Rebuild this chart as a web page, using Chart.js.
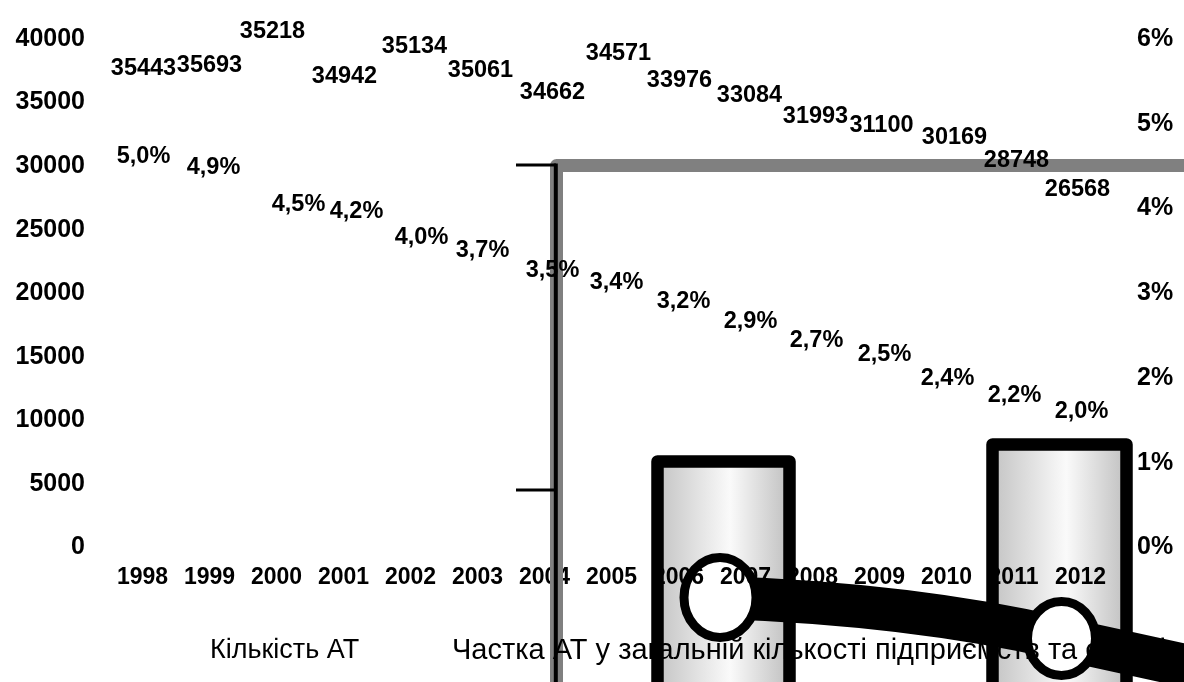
<!DOCTYPE html>
<html>
<head>
<meta charset="utf-8">
<script src="https://cdn.jsdelivr.net/npm/chart.js@4.4.0/dist/chart.umd.min.js"></script>
<style>
html,body{margin:0;padding:0;background:#fff;}
#wrap{width:1184px;height:682px;position:relative;overflow:hidden;}
canvas{display:block;}
</style>
</head>
<body>
<div id="wrap"><canvas id="c" width="1184" height="682"></canvas></div>
<script>
// ---- data ----
const years = ['1998','1999','2000','2001','2002','2003','2004','2005','2006','2007','2008','2009','2010','2011','2012'];
const companyCount = [35443,35693,35218,34942,35134,35061,34662,34571,33976,33084,31993,31100,30169,28748,26568];
const sharePercent = [5.0,4.9,4.5,4.2,4.0,3.7,3.5,3.4,3.2,2.9,2.7,2.5,2.4,2.2,2.0];
const countAxis = {min:0, max:40000, step:5000};
const shareAxis = {min:0, max:6, step:1};
const seriesNames = ['Кількість АТ', 'Частка АТ у загальній кількості підприємств та організацій'];

// ---- label nudges (px, relative to the scale position of each value) ----
const countLabelDx = [1,0,-4,1,4,3,8,7,1,4,3,2,8,3,-3];
const countLabelDy = [-28,-28,-68,-27,-54,-31,-14,-55,-35,-31,-24,-27,-26,-22,-20];
const shareLabelDx = [1,4,22,13,11,5,8,5,5,5,4,5,1,1,1];
const shareLabelDy = [33,35,38,20,29,17,20,23,25,20,22,19,34,34,34];

const FONT = "'Liberation Sans', Arial, sans-serif";

function fmtShare(v){ return v.toFixed(1).replace('.', ',') + '%'; }

// decorative oversized legend-key artefacts of the original picture
const keyBars = [
  {x0:657.5, x1:789.5, top:461.5},
  {x0:992.5, x1:1126.5, top:444.5}
];
const keyRings = [
  {cx:720, cy:597.5, rx:36, ry:40},
  {cx:1061.5, cy:638.5, rx:34, ry:37}
];

function ellipsePath(ctx, e){
  ctx.moveTo(e.cx + e.rx, e.cy);
  ctx.ellipse(e.cx, e.cy, e.rx, e.ry, 0, 0, Math.PI*2);
}

const artPlugin = {
  id:'art',
  beforeDraw(chart){
    const ctx = chart.ctx;
    ctx.save();
    ctx.fillStyle = '#fff';
    ctx.fillRect(0,0,chart.width,chart.height);
    keyBars.forEach(b=>{
      const g = ctx.createLinearGradient(b.x0, 0, b.x1, 0);
      g.addColorStop(0, '#c4c4c4');
      g.addColorStop(0.55, '#fafafa');
      g.addColorStop(1, '#c0c0c0');
      ctx.fillStyle = g;
      ctx.fillRect(b.x0, b.top, b.x1-b.x0, 800);
    });
    ctx.fillStyle = '#fff';
    keyRings.forEach(e=>{ ctx.beginPath(); ellipsePath(ctx,e); ctx.fill(); });
    ctx.restore();
  },
  beforeDatasetsDraw(chart){
    const ctx = chart.ctx;
    ctx.save();
    ctx.strokeStyle = '#808080';
    ctx.lineWidth = 13;
    ctx.lineJoin = 'round';
    ctx.beginPath();
    ctx.moveTo(556.5, 760);
    ctx.lineTo(556.5, 165.5);
    ctx.lineTo(1260, 165.5);
    ctx.stroke();
    ctx.restore();
  },
  afterDatasetsDraw(chart){
    const ctx = chart.ctx;
    const yS = chart.scales.y, y1S = chart.scales.y1;
    const barMeta = chart.getDatasetMeta(0);
    const lineMeta = chart.getDatasetMeta(1);
    ctx.save();
    ctx.fillStyle = '#000';
    ctx.textAlign = 'center';
    ctx.textBaseline = 'middle';
    ctx.font = 'bold 23.5px ' + FONT;
    companyCount.forEach((v,i)=>{
      const x = barMeta.data[i].x + countLabelDx[i];
      const y = yS.getPixelForValue(v) + countLabelDy[i];
      ctx.fillText(String(v), x, y);
    });
    sharePercent.forEach((v,i)=>{
      const x = lineMeta.data[i].x + shareLabelDx[i];
      const y = y1S.getPixelForValue(v) + shareLabelDy[i];
      ctx.fillText(fmtShare(v), x, y);
    });
    ctx.restore();
  },
  afterDraw(chart){
    const ctx = chart.ctx;
    ctx.save();
    ctx.fillStyle = '#000';
    ctx.textAlign = 'left';
    ctx.textBaseline = 'middle';
    ctx.font = '27px ' + FONT;
    ctx.fillText(seriesNames[0], 210, 651);
    ctx.font = '29px ' + FONT;
    ctx.fillText(seriesNames[1], 452, 651);
    // bar borders
    ctx.strokeStyle = '#000';
    ctx.lineWidth = 12.5;
    ctx.lineJoin = 'round';
    keyBars.forEach(b=>{
      ctx.beginPath();
      ctx.moveTo(b.x0, 800);
      ctx.lineTo(b.x0, b.top);
      ctx.lineTo(b.x1, b.top);
      ctx.lineTo(b.x1, 800);
      ctx.stroke();
    });
    // thick curve, clipped out of the ellipse interiors
    ctx.save();
    ctx.beginPath();
    ctx.rect(0,0,chart.width,chart.height);
    keyRings.forEach(e=>ellipsePath(ctx,e));
    ctx.clip('evenodd');
    ctx.lineWidth = 43;
    ctx.lineCap = 'butt';
    ctx.lineJoin = 'round';
    ctx.beginPath();
    ctx.moveTo(720, 597.5);
    ctx.bezierCurveTo(880, 603, 990, 622, 1061.5, 638.5);
    ctx.lineTo(1260, 682);
    ctx.stroke();
    ctx.restore();
    // rings
    ctx.strokeStyle = '#000';
    ctx.lineWidth = 9;
    keyRings.forEach(e=>{ ctx.beginPath(); ellipsePath(ctx,e); ctx.stroke(); });
    // stray black axis with ticks
    ctx.lineWidth = 4;
    ctx.lineCap = 'butt';
    ctx.beginPath();
    ctx.moveTo(555.8, 163.5);
    ctx.lineTo(555.8, 690);
    ctx.stroke();
    ctx.lineWidth = 3;
    ctx.beginPath();
    ctx.moveTo(516, 165); ctx.lineTo(556, 165);
    ctx.moveTo(516, 490); ctx.lineTo(556, 490);
    ctx.stroke();
    ctx.restore();
  }
};

const tickFont = {family: FONT, weight:'bold', size:25};

new Chart(document.getElementById('c').getContext('2d'), {
  type:'bar',
  data:{
    labels: years,
    datasets:[
      {type:'bar', label: seriesNames[0], data: companyCount, yAxisID:'y',
       backgroundColor:'rgba(0,0,0,0)', borderWidth:0, order:2},
      {type:'line', label: seriesNames[1], data: sharePercent, yAxisID:'y1',
       borderColor:'rgba(0,0,0,0)', backgroundColor:'rgba(0,0,0,0)', borderWidth:0, pointRadius:0, order:1}
    ]
  },
  options:{
    responsive:false,
    animation:false,
    devicePixelRatio:1,
    layout:{padding:{top:31.5, left:0, right:0, bottom:0}},
    plugins:{legend:{display:false}, tooltip:{enabled:false}},
    scales:{
      x:{
        grid:{display:false, drawTicks:false}, border:{display:false},
        ticks:{font:{family:FONT, weight:'bold', size:23}, color:'#000', padding:16, maxRotation:0, autoSkip:false},
        afterFit(s){ s.height = 134.5; }
      },
      y:{
        position:'left', min:countAxis.min, max:countAxis.max,
        grid:{display:false, drawTicks:false}, border:{display:false},
        ticks:{stepSize:countAxis.step, font:tickFont, color:'#000', padding:24, callback:v=>String(v)},
        afterFit(s){ s.width = 109; }
      },
      y1:{
        position:'right', min:shareAxis.min, max:shareAxis.max,
        grid:{display:false, drawTicks:false}, border:{display:false},
        ticks:{stepSize:shareAxis.step, font:tickFont, color:'#000', padding:23, callback:v=>v+'%'},
        afterFit(s){ s.width = 70; }
      }
    }
  },
  plugins:[artPlugin]
});
</script>
</body>
</html>
